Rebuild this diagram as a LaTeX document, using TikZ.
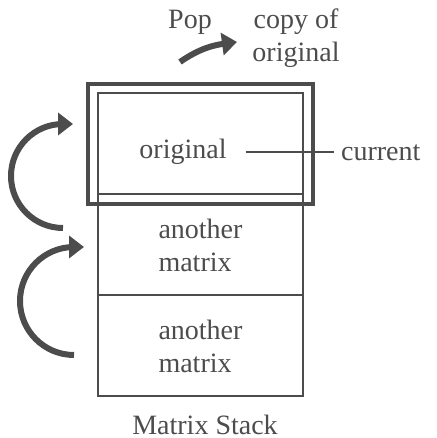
\documentclass[tikz,border=0pt]{standalone}
\usepackage{fontspec}
\setmainfont{Liberation Serif}
\usetikzlibrary{arrows.meta,positioning}
\definecolor{ink}{gray}{0.3}
\begin{document}
\begin{tikzpicture}[x=0.5pt,y=0.5pt,
        every node/.style={font=\fontsize{14}{16.5}\selectfont, text=ink},
        cell/.style={draw=ink, line width=1pt, minimum width=102.5pt, minimum height=50.5pt, outer sep=0pt, align=left},
        frame/.style={draw=ink, line width=2pt, minimum width=112.5pt, minimum height=60pt},
        bigarrow/.style={draw=ink, line width=3pt, -{Triangle[length=7.5pt,width=11pt]}}]
                \useasboundingbox (0,0) rectangle (437,438);

                \node[cell] (top) at (200.5,294) {};
                \node[cell, below=0pt of top] (mid) {another\\matrix};
                \node[cell, below=0pt of mid] (low) {another\\matrix};
                \node[frame] (frame) at (top) {};

                \node (orig) at (183,286) {original};
                \node[anchor=west] (current) at (334,285) {current};
                \draw [ink, line width=1pt] ([xshift=6pt]orig.east) -- (orig.east -| current.west);

                \node (stack) at (205,13) {Matrix Stack};
                \node (pop) at (190,416) {Pop};
                \node[align=center] (copy) at (296,400) {copy of\\original};

                \coordinate (popstart) at (180,376);
                \draw [bigarrow] (popstart) .. controls (200,390) and (215,393) .. (237,396);

                \coordinate (pushA) at (63,210);
                \draw [bigarrow] (pushA) arc[start angle=270, end angle=90, radius=52] -- ++(10,0);
                \coordinate (pushC) at (74,83);
                \draw [bigarrow] (pushC) arc[start angle=270, end angle=90, radius=54] -- ++(10,0);
            \end{tikzpicture}
\end{document}
